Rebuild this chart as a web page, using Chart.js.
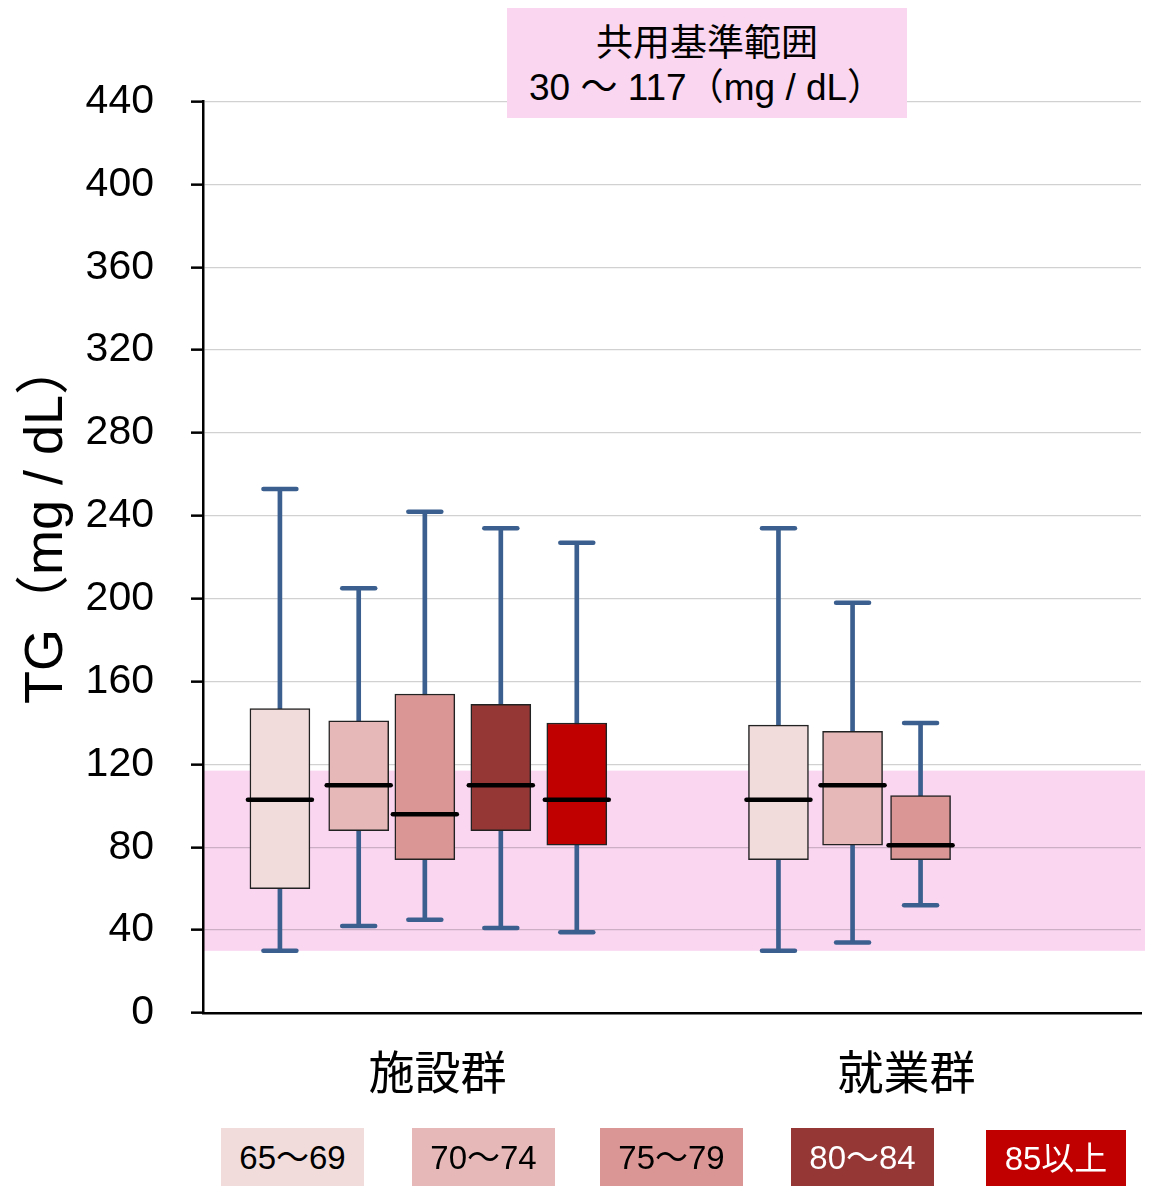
<!DOCTYPE html>
<html lang="ja">
<head>
<meta charset="utf-8">
<title>TG</title>
<script src="https://cdn.jsdelivr.net/npm/chart.js@4.4.1/dist/chart.umd.min.js"></script>
<style>
  html, body { margin: 0; padding: 0; background: #fff; }
  #wrap { position: relative; width: 1153px; height: 1186px; overflow: hidden; }
  #chart { position: absolute; left: 0; top: 0; }
  .note { position: absolute; left: 507px; top: 8px; width: 400px; height: 110px; background: #FAD6F1; }
  .note div { position: absolute; white-space: nowrap; color: #000; }
  .note .l1 { left: 0; width: 400px; top: 14px; text-align: center; font: 37px/37px "Noto Sans CJK JP", sans-serif; }
  .note .l2 { left: 22px; top: 61px; font: 37px/37px "Liberation Sans", "Noto Sans CJK JP", sans-serif; }
  .key { position: absolute; display: flex; align-items: center; justify-content: center;
         font: 33px/33px "Liberation Sans", "Noto Sans CJK JP", sans-serif; white-space: nowrap; }
</style>
</head>
<body>
<div id="wrap">
  <canvas id="chart" width="1153" height="1186"></canvas>
  <div class="note">
    <div class="l1">共用基準範囲</div>
    <div class="l2">30 〜 117（mg / dL）</div>
  </div>
  <div id="keys"></div>
</div>
<script>
const groups = ["施設群", "就業群"];
const ages = ["65〜69", "70〜74", "75〜79", "80〜84", "85以上"];
const yTicks = [0, 40, 80, 120, 160, 200, 240, 280, 320, 360, 400, 440];
const refRange = [30, 117];

// one entry per box: 施設群 x5, then 就業群 x3
const boxAge = [0, 1, 2, 3, 4, 0, 1, 2];
const boxSlot = [0.164, 0.332, 0.473, 0.635, 0.797, 1.227, 1.385, 1.530];
const tgMin = [30, 42, 45, 41, 39, 30, 34, 52];
const tgQ1 = [60, 88, 74, 88, 81, 74, 81, 74];
const tgMedian = [103, 110, 96, 110, 103, 103, 110, 81];
const tgQ3 = [147, 141, 154, 149, 140, 139, 136, 105];
const tgMax = [253, 205, 242, 234, 227, 234, 198, 140];

const ageColors = ["#F2DCDB", "#E6B9B8", "#D99694", "#953735", "#C00000"];
const keyText = ["#000", "#000", "#000", "#fff", "#fff"];
const whiskerColor = "#3B5F8E";
const band = "#FAD6F1";

// legend chips under the chart
const keyBoxes = [[221, 1128, 143, 58], [412, 1128, 143, 58], [600, 1128, 143, 58], [791, 1128, 143, 58], [986, 1130, 140, 56]];
const keys = document.getElementById("keys");
ages.forEach((a, i) => {
  const d = document.createElement("div");
  d.className = "key";
  const b = keyBoxes[i];
  d.style.left = b[0] + "px";
  d.style.top = b[1] + "px";
  d.style.width = b[2] + "px";
  d.style.height = b[3] + "px";
  d.style.background = ageColors[i];
  d.style.color = keyText[i];
  d.textContent = a;
  keys.appendChild(d);
});

const refBand = {
  id: "refBand",
  beforeDraw(chart) {
    const { ctx, chartArea, scales } = chart;
    const top = scales.y.getPixelForValue(refRange[1]);
    const bottom = scales.y.getPixelForValue(refRange[0]);
    ctx.save();
    ctx.fillStyle = band;
    ctx.fillRect(chartArea.left, top, chartArea.right - chartArea.left + 4, bottom - top);
    ctx.restore();
  },
  beforeDatasetDraw(chart) {
    chart.ctx.lineCap = "round";
  },
  afterDatasetDraw(chart) {
    chart.ctx.lineCap = "butt";
  },
  afterDraw(chart) {
    const ctx = chart.ctx;
    ctx.save();
    ctx.translate(62, 704);
    ctx.rotate(-Math.PI / 2);
    ctx.font = '54px "Liberation Sans", "Noto Sans CJK JP", sans-serif';
    ctx.fillStyle = "#000";
    ctx.textAlign = "left";
    ctx.textBaseline = "alphabetic";
    ctx.fillText("TG（mg / dL）", 0, 0);
    ctx.restore();
  }
};

const capPoints = [];
boxSlot.forEach((x, i) => {
  capPoints.push({ x: x, y: tgMin[i] });
  capPoints.push({ x: x, y: tgMax[i] });
});

new Chart(document.getElementById("chart"), {
  type: "bar",
  data: {
    datasets: [
      {
        label: "whisker",
        data: boxSlot.map((x, i) => ({ x: x, y: [tgMin[i], tgMax[i]] })),
        backgroundColor: whiskerColor,
        barThickness: 4,
        grouped: false,
        order: 3
      },
      {
        type: "scatter",
        label: "cap",
        data: capPoints,
        pointStyle: "line",
        pointRadius: 16.5,
        pointBorderWidth: 4.5,
        pointBorderColor: whiskerColor,
        clip: false,
        order: 3
      },
      {
        label: "box",
        data: boxSlot.map((x, i) => ({ x: x, y: [tgQ1[i], tgQ3[i]] })),
        backgroundColor: boxAge.map((a) => ageColors[a]),
        borderColor: "#222",
        borderWidth: 1.5,
        borderSkipped: false,
        barThickness: 60,
        grouped: false,
        order: 2
      },
      {
        type: "scatter",
        label: "median",
        data: boxSlot.map((x, i) => ({ x: x, y: tgMedian[i] })),
        pointStyle: "line",
        pointRadius: 32,
        pointBorderWidth: 4.5,
        pointBorderColor: "#000",
        clip: false,
        order: 1
      }
    ]
  },
  options: {
    responsive: false,
    animation: false,
    events: [],
    layout: { autoPadding: false, padding: { top: 101.5, right: 12, left: 0, bottom: 0 } },
    plugins: { legend: { display: false }, tooltip: { enabled: false } },
    scales: {
      x: {
        type: "linear",
        min: 0,
        max: 2,
        offset: false,
        grid: { display: false, drawTicks: false, offset: false },
        border: { color: "#000", width: 2.5 },
        afterBuildTicks: (s) => { s.ticks = [{ value: 0.5 }, { value: 1.5 }]; },
        afterFit: (s) => {
          s.height = 173;
          s.paddingLeft = 0;
          s.paddingRight = 0;
        },
        ticks: {
          autoSkip: false,
          maxRotation: 0,
          padding: 31,
          color: "#000",
          font: { family: '"Noto Sans CJK JP", sans-serif', size: 46 },
          callback: (v) => groups[Math.floor(v)]
        }
      },
      y: {
        min: 0,
        max: 440,
        afterBuildTicks: (s) => { s.ticks = yTicks.map((v) => ({ value: v })); },
        afterFit: (s) => { s.width = 203; },
        grid: { color: "rgba(0,0,0,0.18)", lineWidth: 1.3, tickLength: 12, tickColor: "#000", tickWidth: 2.5 },
        border: { color: "#000", width: 2.5 },
        ticks: {
          padding: 37,
          color: "#000",
          font: { family: '"Liberation Sans", sans-serif', size: 41 }
        }
      }
    }
  },
  plugins: [refBand]
});
</script>
</body>
</html>
